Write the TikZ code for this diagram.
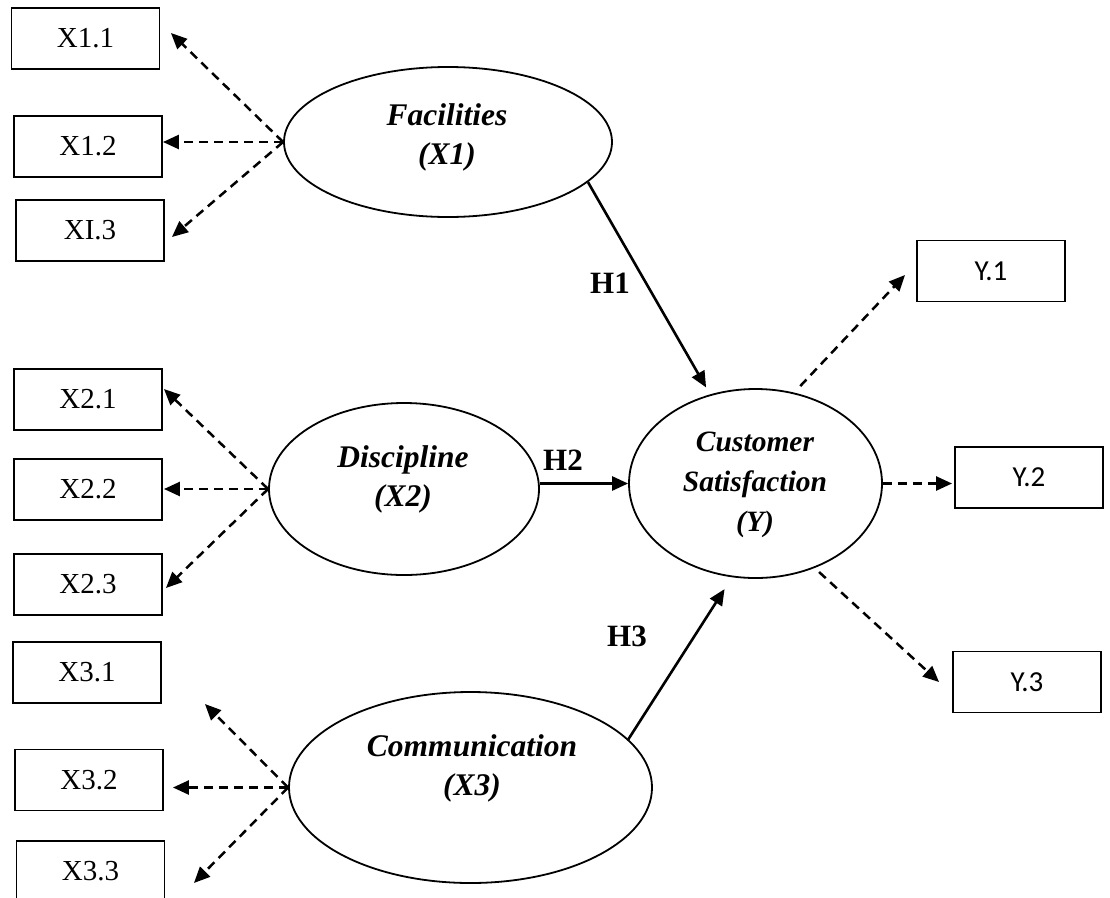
\documentclass[tikz,border=0pt]{standalone}
\usepackage{fontspec}
\setmainfont{Liberation Serif}
\newfontfamily\calibri{Carlito}
\usetikzlibrary{shapes.geometric,arrows.meta}
\begin{document}
\begin{tikzpicture}[x=1pt,y=-1pt,
  ibox/.style={draw,line width=1.9pt,minimum width=148pt,minimum height=61pt,inner sep=0pt,font=\fontsize{29}{35}\selectfont},
  ybox/.style={ibox,font=\calibri\fontsize{29}{35}\selectfont},
  latent/.style={draw,ellipse,line width=1.8pt,inner sep=0pt},
  ltext/.style={align=center,inner sep=0pt,font=\fontsize{31.5}{39}\selectfont\bfseries\itshape},
  ctext/.style={ltext,font=\fontsize{29.5}{40}\selectfont\bfseries\itshape},
  hlab/.style={inner sep=0pt,font=\fontsize{31}{36}\selectfont\bfseries},
  dasharrow/.style={line width=2.5pt,dash pattern=on 9pt off 6pt,-{Triangle[length=16pt,width=14pt]}},
  patharrow/.style={line width=2.6pt,-{Triangle[length=16pt,width=14pt]}}
]
\clip (0,0) rectangle (1110,897);
\fill[white] (0,0) rectangle (1110,897);

% indicator boxes
\node[ibox] (x11) at (85.5,38.5) {X1.1};
\node[ibox] (x12) at (88,146.5) {X1.2};
\node[ibox] (x13) at (90,230.5) {XI.3};
\node[ibox] (x21) at (88,399.5) {X2.1};
\node[ibox] (x22) at (88,489.5) {X2.2};
\node[ibox] (x23) at (88,584.5) {X2.3};
\node[ibox] (x31) at (87,672.5) {X3.1};
\node[ibox] (x32) at (89,780) {X3.2};
\node[ibox] (x33) at (90.5,871.5) {X3.3};
\node[ybox] (y1) at (991,271) {Y.1};
\node[ybox] (y2) at (1029,477.5) {Y.2};
\node[ybox] (y3) at (1027,682) {Y.3};

% latent variables
\node[latent,minimum width=328pt,minimum height=150pt] (fac) at (448,142) {};
\node[ltext] (fact) at (447,137) {Facilities\\(X1)};
\node[latent,minimum width=270pt,minimum height=172pt] (disc) at (404,489) {};
\node[ltext] (disct) at (403,479) {Discipline\\(X2)};
\node[latent,minimum width=363pt,minimum height=191pt] (com) at (470.5,787.5) {};
\node[ltext] (comt) at (472,768.5) {Communication\\(X3)};
\node[latent,minimum width=253pt,minimum height=189pt] (cust) at (755.5,483.5) {};
\node[ctext] (custt) at (755,485) {Customer\\Satisfaction\\(Y)};

% measurement arrows
\draw[dasharrow] (fac.west) -- ([shift={(10.5,-5.5)}]x11.east);
\draw[dasharrow] (fac.west) -- (x12.east |- fac.west);
\draw[dasharrow] (fac.west) -- ([shift={(7,6.5)}]x13.east);

\draw[dasharrow] (disc.west) -- ([shift={(1,-10.5)}]x21.east);
\draw[dasharrow] (disc.west) -- ([xshift=1pt]x22.east |- disc.west);
\draw[dasharrow] (disc.west) -- ([shift={(3,3.5)}]x23.east);

\draw[dasharrow] (com.west) -- ([shift={(43,31.5)}]x31.east);
\draw[dasharrow] (com.west) -- ([xshift=9pt]x32.east |- com.west);
\draw[dasharrow] (com.west) -- ([shift={(28.5,11.5)}]x33.east);

\draw[dasharrow,shorten <=9pt] (cust.67) -- ([shift={(-11,4)}]y1.west);
\draw[dasharrow] (cust.east) -- ([xshift=-2pt]y2.west |- cust.east);
\draw[dasharrow,shorten <=6pt] (cust.-55) -- ([shift={(-13,0)}]y3.west);

% structural paths
\draw[patharrow,shorten >=8pt] (fac.-16) -- (cust.117);
\draw[patharrow] (cust.west -| disc.east) -- (cust.west);
\draw[patharrow,shorten >=14pt] (com.17) -- (cust.256);

\node[hlab] (h1) at (610,283) {H1};
\node[hlab] (h2) at (563,460) {H2};
\node[hlab] (h3) at (627,636) {H3};
\end{tikzpicture}
\end{document}
